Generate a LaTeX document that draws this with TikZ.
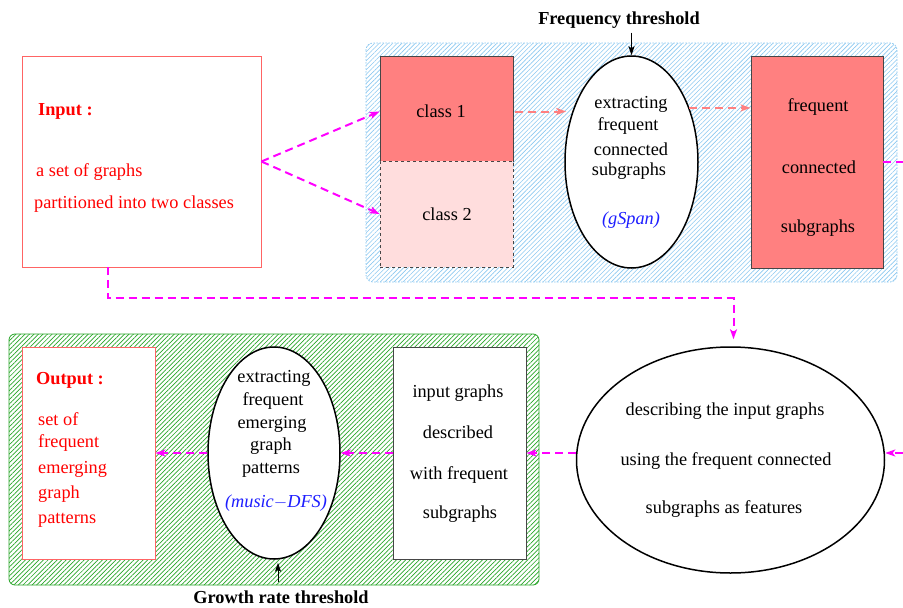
\documentclass[tikz,border=0pt]{standalone}
\usepackage{fontspec}
\setmainfont{Liberation Serif}
\usetikzlibrary{arrows.meta,patterns.meta,calc,shapes.geometric}
\definecolor{salmon}{RGB}{255,128,128}
\definecolor{pinkl}{RGB}{255,221,221}
\definecolor{mag}{RGB}{255,0,255}
\definecolor{hblue}{RGB}{140,200,240}
\definecolor{hgreen}{RGB}{40,165,40}
\definecolor{iblue}{RGB}{30,30,255}
\definecolor{boxred}{RGB}{255,100,100}
\definecolor{edgegray}{RGB}{70,70,70}
\begin{document}
\begin{tikzpicture}[x=1pt,y=-1pt,
  font=\fontsize{18.3}{22}\selectfont,
  txt/.style={inner sep=0pt},
  redtxt/.style={inner sep=0pt, text=red, anchor=west},
  rectbox/.style={draw=edgegray, line width=0.8pt, inner sep=0pt},
  redbox/.style={draw=boxred, line width=0.8pt, fill=white, inner sep=0pt},
  oval/.style={ellipse, draw=black, line width=1.5pt, fill=white, inner sep=0pt},
  magarrow/.style={draw=mag, line width=2pt, dash pattern=on 8pt off 5pt, -{Stealth[length=10pt,width=7pt,inset=2.5pt]}},
  salarrow/.style={draw=salmon, line width=2pt, dash pattern=on 8pt off 5pt, -{Stealth[length=10pt,width=7pt,inset=2.5pt]}},
  blackarrow/.style={draw=black, line width=1pt, -{Stealth[length=9pt,width=6pt,inset=2pt]}}
]
\useasboundingbox (0,0) rectangle (903,608);

% hatched regions
\path[pattern={Lines[angle=45,distance=3.2pt,line width=0.6pt]}, pattern color=hblue, rounded corners=7pt]
  (366,43) rectangle (897,282);
\draw[hblue, line width=0.8pt, dash pattern=on 1.5pt off 1.5pt, rounded corners=7pt] (366,43) rectangle (897,282);
\path[pattern={Lines[angle=45,distance=3.2pt,line width=0.7pt]}, pattern color=hgreen, rounded corners=6pt]
  (9,334) rectangle (539,585);
\draw[hgreen, line width=0.8pt, rounded corners=6pt] (9,334) rectangle (539,585);

% boxes
\node[redbox, minimum width=239pt, minimum height=211pt] (in) at (141.5,161.5) {};
\node[rectbox, fill=salmon, minimum width=133pt, minimum height=105pt] (c1) at (446.5,108.5) {};
\node[rectbox, fill=pinkl, dashed, minimum width=133pt, minimum height=106pt] (c2) at (446.5,214) {};
\node[oval, minimum width=133pt, minimum height=212pt] (e1) at (631.5,162) {};
\node[rectbox, fill=salmon, minimum width=132pt, minimum height=212pt] (fr) at (817,162) {};
\node[oval, minimum width=308pt, minimum height=226pt] (e2) at (730.5,460) {};
\node[rectbox, fill=white, minimum width=133pt, minimum height=212pt] (ib) at (459.5,453) {};
\node[oval, minimum width=132pt, minimum height=212pt] (e3) at (274,453) {};
\node[redbox, minimum width=133pt, minimum height=212pt] (out) at (88.5,453) {};

% thresholds
\node[txt, font=\fontsize{18.3}{22}\selectfont\bfseries] (ft) at (619,20) {Frequency threshold};
\node[txt, font=\fontsize{18.3}{22}\selectfont\bfseries] (gt) at (281,597) {Growth rate threshold};
\draw[blackarrow] (e1.north |- ft.south) ++(0,4) -- (e1.north);
\draw[blackarrow] (e3.south) ++(4,22) coordinate (gs) -- ($(e3.south)+(4,3)$);

% connectors
\draw[magarrow] (in.east) -- ($(c1.west)+(0,3)$);
\draw[magarrow] (in.east) -- (c2.west);
\draw[magarrow] ([xshift=86pt]in.south west) -- ++(0,31) -| ($(e2.north)+(3,-7)$);
\draw[salarrow] ($(c1.east)+(2,3)$) -- ($(c1.east -| e1.west)+(2,3)$);
\draw[salarrow] (e1.43) -- (e1.43 -| fr.west);
\draw[magarrow] (fr.east) -- ++(40,0) |- ($(e2.east)+(0,-7)$);
\draw[magarrow] ($(e2.west)+(0,-7)$) -- (ib.east);
\draw[magarrow] (ib.west) -- (e3.east);
\draw[magarrow] (e3.west) -- (out.east);

% input text
\node[redtxt, font=\fontsize{18.3}{22}\selectfont\bfseries] at (38,111) {Input :};
\node[redtxt] at (36,172) {a set of graphs};
\node[redtxt] at (34,204) {partitioned into two classes};

% class texts
\node[txt] at (441,111) {class 1};
\node[txt] at (447,214) {class 2};

% ellipse 1 text
\node[txt] at (631,104) {extracting};
\node[txt] at (628,126) {frequent};
\node[txt] at (631,149) {connected};
\node[txt] at (629,171) {subgraphs};
\node[txt, text=iblue, font=\fontsize{18.3}{22}\selectfont\itshape] at (631,220) {(gSpan)};

% frequent box text
\node[txt] at (818,107) {frequent};
\node[txt] at (819,167) {connected};
\node[txt] at (818,228) {subgraphs};

% ellipse 2 text
\node[txt] at (725,411) {describing the input graphs};
\node[txt] at (726,461) {using the frequent connected};
\node[txt] at (724,509) {subgraphs as features};

% input graphs box text
\node[txt] at (458,393) {input graphs};
\node[txt] at (458,432) {described};
\node[txt] at (459,475) {with frequent};
\node[txt] at (460,514) {subgraphs};

% ellipse 3 text
\node[txt] at (274,378) {extracting};
\node[txt] at (273,401) {frequent};
\node[txt] at (272,424) {emerging};
\node[txt] at (271,446) {graph};
\node[txt] at (271,470) {patterns};
\node[txt, text=iblue, font=\fontsize{18.3}{22}\selectfont\itshape] at (276,503) {(music$-$DFS)};

% output text
\node[redtxt, font=\fontsize{18.3}{22}\selectfont\bfseries] at (36,380) {Output :};
\node[redtxt] at (38,419) {set of};
\node[redtxt] at (38,443) {frequent};
\node[redtxt] at (38,469) {emerging};
\node[redtxt] at (38,494) {graph};
\node[redtxt] at (38,520) {patterns};
\end{tikzpicture}
\end{document}
